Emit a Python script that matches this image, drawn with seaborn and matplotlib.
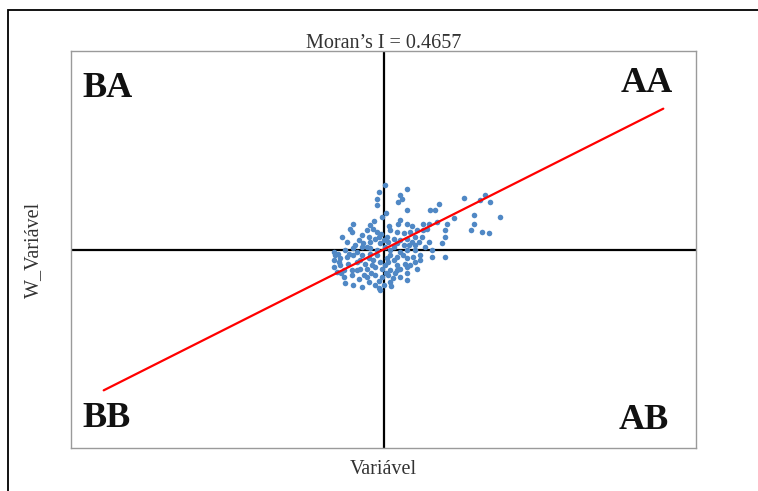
import numpy as np
import matplotlib
matplotlib.use("Agg")
import matplotlib.pyplot as plt
import seaborn as sns
from matplotlib.patches import Rectangle

# Moran scatter: standardized variable vs. its spatial lag
MORAN_I = 0.4657

var_x = [0.03, 0.49, -0.09, 0.35, -0.14, 0.38, 0.31, -0.14, 0.49, 1.15,
         0.97, 1.08, 1.67, 2.12, 2.22, 2.01, 2.43, 1.88, 1.88, 1.81,
         2.05, 2.19, 1.46, 1.32, 1.28, 1.28, -0.03, 0.35, 0.31, 0.49,
         0.83, 0.94, 1.11, -0.63, -0.69, -0.66, -0.87, -0.28, -0.21, -0.35,
         -0.14, -0.52, -0.42, -0.28, -0.17, -0.10, 0.14, 0.28, 0.42, 0.56,
         0.69, 0.83, 0.90, 0.07, 0.21, 0.35, 0.49, 0.66, 0.80, 0.10,
         0.28, 0.42, 0.59, 0.73, 0.94, 1.22, -1.04, -0.80, -0.63, -0.45,
         -0.28, -0.14, 0.14, 0.35, 0.49, 0.66, 1.01, 1.28, -1.04, -0.90,
         -0.76, -0.63, -0.45, -0.28, -0.14, 0.14, 0.28, 0.49, 0.62, 0.76,
         1.01, -1.04, -0.90, -0.73, -0.56, -0.38, -0.21, -0.07, 0.10, 0.28,
         0.45, 0.66, 0.76, -0.97, -0.83, -0.66, -0.49, -0.35, -0.17, -0.03,
         0.14, 0.35, 0.49, 0.69, -0.83, -0.66, -0.52, -0.35, -0.17, -0.03,
         0.10, 0.24, 0.49, 0.49, -0.80, -0.63, -0.45, -0.17, -0.10, 0.00,
         0.14, -0.31, -0.07, -0.07, 0.03, 0.00, -0.31, -0.45, 0.07, -0.24,
         -0.59, -0.76, 0.21, 0.52, 0.87, 0.66, -0.31, 0.03, -0.49, 0.28,
         0.35, -0.94, -1.01, -0.88, -0.92, -0.72, -0.55, -0.40, -0.25, -0.10,
         0.05, 0.20, 0.22, 0.40, 0.55, -0.05, 0.12, -0.35, -0.55, 0.60,
         0.15, -0.20, 0.05]

w_var = [1.24, 1.16, 1.11, 1.04, 0.98, 0.98, 0.92, 0.85, 0.76, 0.88,
         0.76, 0.76, 0.99, 1.04, 0.92, 0.96, 0.63, 0.66, 0.50, 0.38,
         0.34, 0.32, 0.60, 0.50, 0.37, 0.24, 0.63, 0.56, 0.50, 0.50,
         0.50, 0.50, 0.53, 0.50, 0.40, 0.34, 0.24, 0.47, 0.40, 0.37,
         0.34, 0.18, 0.12, 0.15, 0.21, 0.24, 0.37, 0.34, 0.31, 0.34,
         0.37, 0.37, 0.40, 0.24, 0.21, 0.18, 0.21, 0.24, 0.24, 0.15,
         0.12, 0.08, 0.15, 0.15, 0.15, 0.12, -0.04, -0.01, 0.02, 0.05,
         0.02, -0.01, -0.01, -0.04, -0.01, -0.01, -0.01, -0.14, -0.21, -0.17,
         -0.14, -0.11, -0.11, -0.08, -0.11, -0.11, -0.14, -0.17, -0.14, -0.11,
         -0.15, -0.33, -0.30, -0.27, -0.24, -0.27, -0.21, -0.24, -0.24, -0.30,
         -0.27, -0.24, -0.21, -0.43, -0.40, -0.40, -0.37, -0.37, -0.33, -0.37,
         -0.40, -0.37, -0.33, -0.37, -0.53, -0.49, -0.56, -0.53, -0.49, -0.53,
         -0.49, -0.46, -0.46, -0.59, -0.65, -0.69, -0.72, -0.69, -0.75, -0.69,
         -0.62, -0.62, -0.78, 0.12, 0.05, 0.18, 0.24, 0.28, -0.17, -0.30,
         0.08, 0.15, 0.05, 0.08, 0.05, 0.08, -0.17, -0.30, -0.21, -0.40,
         -0.53, -0.08, -0.11, -0.45, -0.25, -0.08, -0.40, -0.50, -0.45, -0.60,
         -0.45, -0.55, -0.20, -0.10, -0.30, 0.30, 0.45, 0.05, -0.05, 0.45,
         -0.70, 0.55, 0.70]

line_x = [-5.82, 5.82]
x_lim = (-6.5, 6.5)
y_lim = (-3.82, 3.82)

quadrants = {"BA": (0.019, 0.884, "left"), "AA": (0.963, 0.897, "right"),
             "BB": (0.019, 0.053, "left"), "AB": (0.957, 0.048, "right")}

sns.set_theme(style="white")
plt.rcParams['font.family'] = ['Liberation Serif', 'DejaVu Serif']

fig = plt.figure(figsize=(7.58, 4.91), dpi=100)
ax = fig.add_axes([71 / 758, 43 / 491, 625 / 758, 397 / 491])

# outer frame of the figure (cropped on right and bottom)
fig.patches.append(Rectangle((8 / 758, -0.1), 1.2, 1.1 - 10 / 491, transform=fig.transFigure,
                             fill=False, edgecolor='black', linewidth=1.3, clip_on=False))

ax.axvline(0, color='black', linewidth=1.6, zorder=1)
ax.axhline(0, color='black', linewidth=1.6, zorder=1)

sns.scatterplot(x=var_x, y=w_var, ax=ax, s=16, color='#5088C5', linewidth=0, zorder=2)

line_y = [MORAN_I * v for v in line_x]
ax.plot(line_x, line_y, color='#FF0000', linewidth=1.6, zorder=3)

ax.set_xlim(*x_lim)
ax.set_ylim(*y_lim)
ax.set_xticks([])
ax.set_yticks([])
for sp in ax.spines.values():
    sp.set_color('#9a9a9a')
    sp.set_linewidth(1.0)

for lab, (px, py, ha) in quadrants.items():
    ax.text(px, py, lab, transform=ax.transAxes, ha=ha, va='baseline',
            fontsize=26, fontweight='bold', color='#111111')

ax.text(0.5, 1.0 + 3 / 397, f"Moran\u2019s I = {MORAN_I:.4f}", transform=ax.transAxes,
        ha='center', va='baseline', fontsize=14.5, color='#333333')
ax.set_xlabel("Variável", fontsize=14.5, color='#333333', labelpad=9)
ax.set_ylabel("W_Variável", fontsize=14.5, color='#333333', labelpad=20)

fig.savefig("out.png", dpi=100)
